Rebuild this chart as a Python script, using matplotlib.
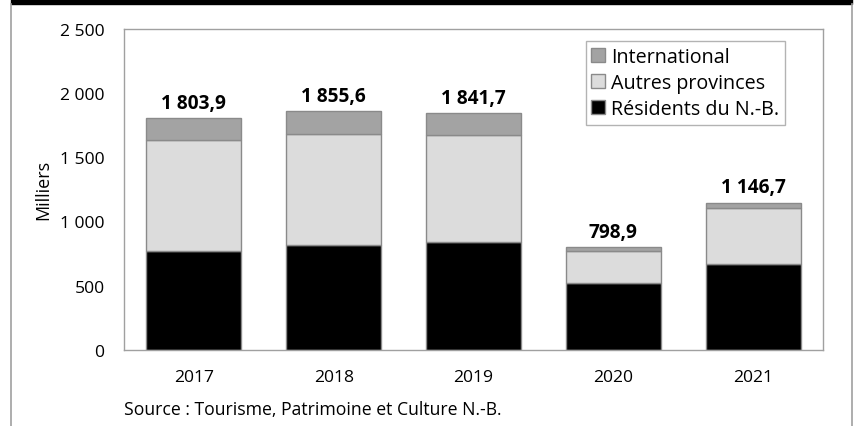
import matplotlib.pyplot as plt
import numpy as np
from matplotlib.lines import Line2D
from matplotlib.patches import Rectangle

years = ['2017', '2018', '2019', '2020', '2021']
residents = [770, 816, 840, 521, 669]
autres = [863, 864, 832, 249, 435]
international = [170.9, 175.6, 169.7, 28.9, 42.7]
totals = ['1 803,9', '1 855,6', '1 841,7', '798,9', '1 146,7']
series_names = ['Résidents du N.-B.', 'Autres provinces', 'International']
yticks = [0, 500, 1000, 1500, 2000, 2500]
ytick_labels = ['0', '500', '1 000', '1 500', '2 000', '2 500']

plt.rcParams['font.family'] = ['Open Sans', 'DejaVu Sans']

fig = plt.figure(figsize=(8.56, 4.27), dpi=100)
W, H = 856, 427
ax = fig.add_axes([124 / W, 1 - 351 / H, (823 - 124) / W, (351 - 29.5) / H])

# Cadre de la figure : bandeau noir et bordures grises
fig.patches.append(Rectangle((11 / W, 1 - 5 / H), (852 - 11) / W, 5 / H,
                             transform=fig.transFigure, color='black'))
fig.add_artist(Line2D([11 / W, 11 / W], [0, 1 - 5 / H], color='#a0a0a0', lw=1.2))
fig.add_artist(Line2D([852 / W, 852 / W], [0, 1 - 5 / H], color='#a0a0a0', lw=1.2))

x = np.arange(len(years))
w = 0.68
edge = '#8a8a8a'
b1 = ax.bar(x, residents, w, color='black', edgecolor=edge, lw=1, label=series_names[0])
b2 = ax.bar(x, autres, w, bottom=residents, color='#dcdcdc', edgecolor=edge, lw=1,
            label=series_names[1])
bottom3 = np.array(residents) + np.array(autres)
b3 = ax.bar(x, international, w, bottom=bottom3, color='#a3a3a3', edgecolor=edge, lw=1,
            label=series_names[2])

tops = bottom3 + np.array(international)
for xi, t, lab in zip(x, tops, totals):
    ax.text(xi, t + 40, lab, ha='center', va='bottom', fontsize=13.8, fontweight='bold')

ax.set_xlim(-0.5, len(years) - 0.5)
ax.set_ylim(0, 2500)
ax.set_xticks(x)
ax.set_xticklabels(years, fontsize=12.6)
ax.set_yticks(yticks)
ax.set_yticklabels(ytick_labels, fontsize=12.6)
ax.tick_params(length=0)
ax.tick_params(axis='x', pad=14)
ax.tick_params(axis='y', pad=14)
ax.set_ylabel('Milliers', fontsize=13)
ax.yaxis.set_label_coords((52 - 124) / 699, 0.5)
for s in ax.spines.values():
    s.set_color('#a0a0a0')
    s.set_linewidth(1)

leg = ax.legend(handles=[b3, b2, b1], loc='upper right', bbox_to_anchor=(0.946, 0.961),
                fontsize=14.2, frameon=True, fancybox=False, handlelength=0.7,
                handleheight=0.7, handletextpad=0.3, borderpad=0.3, labelspacing=0.3,
                borderaxespad=0)
leg.get_frame().set_edgecolor('#a0a0a0')
leg.get_frame().set_linewidth(1)

fig.text(124 / W, 1 - 410 / H, 'Source : Tourisme, Patrimoine et Culture N.-B.',
         fontsize=12.7, va='center', ha='left')

fig.savefig('out.png', dpi=100)
